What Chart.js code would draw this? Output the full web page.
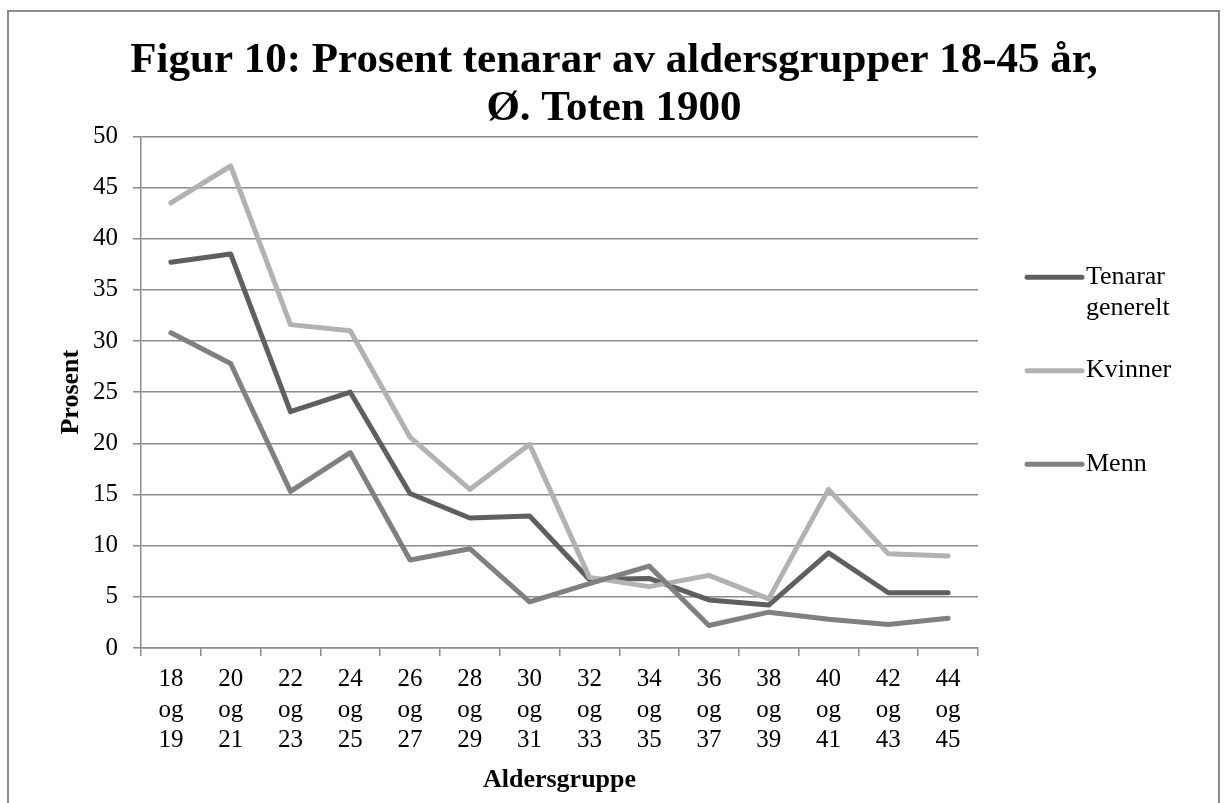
<!DOCTYPE html>
<html lang="no">
<head>
    <meta charset="UTF-8">
    <title>Figur 10</title>
    <script src="https://cdn.jsdelivr.net/npm/chart.js"></script>
    <style>
        body {
            margin: 0;
            padding: 0;
            background: #fff;
            overflow: hidden;
        }
        .frame {
            position: absolute;
            left: 7px;
            top: 10px;
            width: 1213px;
            height: 900px;
            border: 2px solid #8c8c8c;
            box-sizing: border-box;
        }
        .wrap {
            position: absolute;
            left: 0;
            top: 0;
            width: 1228px;
            height: 803px;
        }
    </style>
</head>
<body>
    <div class="frame"></div>
    <div class="wrap"><canvas id="chart" width="1228" height="803"></canvas></div>

    <script>
        const ageGroups = ['18 og 19', '20 og 21', '22 og 23', '24 og 25', '26 og 27', '28 og 29', '30 og 31',
                           '32 og 33', '34 og 35', '36 og 37', '38 og 39', '40 og 41', '42 og 43', '44 og 45'];
        const tenarar = [37.7, 38.5, 23.1, 25.0, 15.1, 12.7, 12.9, 6.7, 6.8, 4.7, 4.2, 9.3, 5.4, 5.4];
        const kvinner = [43.5, 47.1, 31.6, 31.0, 20.6, 15.5, 19.9, 6.9, 6.0, 7.1, 4.8, 15.5, 9.2, 9.0];
        const menn    = [30.8, 27.8, 15.3, 19.1, 8.6, 9.7, 4.5, 6.3, 8.0, 2.2, 3.5, 2.8, 2.3, 2.9];
        const seriesNames = ['Tenarar generelt', 'Kvinner', 'Menn'];

        const serif = "'Liberation Serif', 'Times New Roman', serif";
        const gridGray = '#8c8c8c';

        // legend drawn by hand: Excel style, wrapped text on the right
        const sideLegend = {
            id: 'sideLegend',
            afterDraw(chart) {
                const ctx = chart.ctx;
                const area = chart.chartArea;
                const mid = (area.top + area.bottom) / 2;
                const lineX0 = area.right + 49;
                const lineX1 = area.right + 104;
                const textX = area.right + 108;
                const maxW = chart.width - textX - 15;
                ctx.save();
                ctx.font = '26px ' + serif;
                ctx.textBaseline = 'middle';
                ctx.fillStyle = '#000';
                chart.data.datasets.forEach((ds, i) => {
                    const y = mid - 115 + i * 93.5;
                    ctx.strokeStyle = ds.borderColor;
                    ctx.lineWidth = 5;
                    ctx.lineCap = 'round';
                    ctx.beginPath();
                    ctx.moveTo(lineX0, y);
                    ctx.lineTo(lineX1, y);
                    ctx.stroke();
                    let lines = [];
                    let cur = '';
                    ds.label.split(' ').forEach(w => {
                        const test = cur ? cur + ' ' + w : w;
                        if (cur && ctx.measureText(test).width > maxW) {
                            lines.push(cur);
                            cur = w;
                        } else {
                            cur = test;
                        }
                    });
                    lines.push(cur);
                    lines.forEach((t, k) => ctx.fillText(t, textX, y + k * 31));
                });
                ctx.restore();
            }
        };

        new Chart(document.getElementById('chart'), {
            type: 'line',
            data: {
                labels: ageGroups.map(g => g.split(' ')),
                datasets: [
                    { label: seriesNames[0], data: tenarar, borderColor: '#5f5f5f', order: 3 },
                    { label: seriesNames[1], data: kvinner, borderColor: '#b2b2b2', order: 2 },
                    { label: seriesNames[2], data: menn, borderColor: '#808080', order: 1 }
                ]
            },
            options: {
                responsive: false,
                animation: false,
                layout: { padding: { left: 0, right: 0, top: 0, bottom: 0 } },
                elements: {
                    line: { borderWidth: 5, tension: 0, borderJoinStyle: 'round', borderCapStyle: 'round' },
                    point: { radius: 0, hoverRadius: 0 }
                },
                plugins: {
                    legend: { display: false },
                    tooltip: { enabled: false },
                    title: {
                        display: true,
                        text: ['Figur 10: Prosent tenarar av aldersgrupper 18-45 år,', 'Ø. Toten 1900'],
                        color: '#000',
                        font: { family: serif, size: 43, weight: 'bold', lineHeight: 1.12 },
                        padding: { top: 37, bottom: 3 }
                    }
                },
                scales: {
                    x: {
                        offset: true,
                        grid: { display: true, offset: true, drawOnChartArea: false, drawTicks: true, tickLength: 8, color: gridGray, lineWidth: 1.5 },
                        border: { display: true, color: gridGray, width: 1.5 },
                        ticks: { color: '#000', font: { family: serif, size: 25, lineHeight: 1.23 }, padding: 8, maxRotation: 0, autoSkip: false },
                        title: { display: true, text: 'Aldersgruppe', color: '#000', font: { family: serif, size: 26, weight: 'bold' }, padding: { top: 0, bottom: 7 } },
                        afterFit(s) { s.height = 155; }
                    },
                    y: {
                        min: 0,
                        max: 50,
                        ticks: { stepSize: 5, color: '#000', font: { family: serif, size: 25 }, padding: 15 },
                        grid: { color: gridGray, lineWidth: 1.5, tickLength: 8 },
                        border: { display: true, color: gridGray, width: 1.5 },
                        title: { display: true, text: 'Prosent', color: '#000', font: { family: serif, size: 26, weight: 'bold' }, padding: { top: 56, bottom: 0 } },
                        afterFit(s) { s.width = 141; }
                    },
                    side: {
                        position: 'right',
                        display: true,
                        grid: { display: false },
                        border: { display: false },
                        ticks: { display: false },
                        afterFit(s) { s.width = 250; }
                    }
                }
            },
            plugins: [sideLegend]
        });
    </script>
</body>
</html>
